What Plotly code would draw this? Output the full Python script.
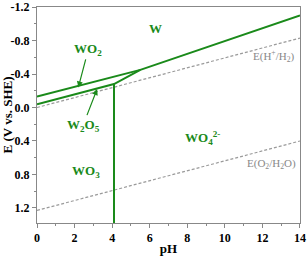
import plotly.graph_objects as go

# Boundary lines (pH, E)
upper_ph = [0, 5.5, 14]
upper_E = [-0.13, -0.45, -1.10]
lower_ph = [0, 4.1, 5.5]
lower_E = [-0.04, -0.28, -0.45]
vert_ph = [4.1, 4.1]
vert_E = [-0.28, 1.38]
h2_ph = [0, 14]
h2_E = [0.0, -0.83]
o2_ph = [0, 14]
o2_E = [1.23, 0.40]

x_ticks = [0, 2, 4, 6, 8, 10, 12, 14]
y_ticks = [-1.2, -0.8, -0.4, 0.0, 0.4, 0.8, 1.2]
y_tick_text = ["-1.2", "-0.8", "-0.4", "0.0", "0.4", "0.8", "1.2"]

green = "#1a8a1a"
gray = "#9a9a9a"
serif = "Liberation Serif, Times New Roman, serif"

fig = go.Figure()
for xs, ys in [(h2_ph, h2_E), (o2_ph, o2_E)]:
    fig.add_trace(go.Scatter(x=xs, y=ys, mode="lines",
                             line=dict(color=gray, width=1.2, dash="3px,2px"), showlegend=False))
for xs, ys in [(upper_ph, upper_E), (lower_ph, lower_E), (vert_ph, vert_E)]:
    fig.add_trace(go.Scatter(x=xs, y=ys, mode="lines",
                             line=dict(color=green, width=2), showlegend=False))

labels = [
    (6.3, -0.94, "<b>W</b>"),
    (2.6, 0.77, "<b>WO<sub>3</sub></b>"),
    (8.8, 0.36, "<b>WO<sub>4</sub><sup>2-</sup></b>"),
]
for x, y, t in labels:
    fig.add_annotation(x=x, y=y, text=t, showarrow=False,
                       font=dict(family=serif, size=13, color=green))
fig.add_annotation(x=12.6, y=-0.62, text="E(H<sup>+</sup>/H<sub>2</sub>)", showarrow=False,
                   font=dict(family=serif, size=11, color="#888888"))
fig.add_annotation(x=12.5, y=0.67, text="E(O<sub>2</sub>/H<sub>2</sub>O)", showarrow=False,
                   font=dict(family=serif, size=11, color="#888888"))
fig.add_annotation(x=2.2, y=-0.24, text="<b>WO<sub>2</sub></b>", showarrow=True, ax=10, ay=-38,
                   arrowhead=2, arrowsize=1, arrowwidth=1.2, arrowcolor=green,
                   font=dict(family=serif, size=13, color=green))
fig.add_annotation(x=3.2, y=-0.22, text="<b>W<sub>2</sub>O<sub>5</sub></b>", showarrow=True, ax=-14, ay=36,
                   arrowhead=2, arrowsize=1, arrowwidth=1.2, arrowcolor=green,
                   font=dict(family=serif, size=13, color=green))

axis_common = dict(showline=True, linecolor="#888888", linewidth=1, mirror=True,
                   ticks="outside", ticklen=4, tickcolor="#888888", showgrid=False, zeroline=False,
                   automargin=False,
                   tickfont=dict(family=serif, size=12, color="black"),
                   minor=dict(ticks="outside", ticklen=2, tickcolor="#888888"))
fig.update_xaxes(range=[0, 14.001], tickvals=x_ticks,
                 ticktext=["<b>%d</b>" % v for v in x_ticks],
                 minor_dtick=1,
                 title=dict(text="<b>pH</b>", font=dict(family=serif, size=13, color="black"), standoff=2),
                 **axis_common)
fig.update_yaxes(range=[1.38, -1.201], tickvals=y_ticks,
                 ticktext=["<b>%s</b>" % t for t in y_tick_text],
                 minor_dtick=0.2,
                 title=dict(text="<b>E (V vs. SHE)</b>", font=dict(family=serif, size=13, color="black"), standoff=4),
                 **axis_common)
fig.update_layout(width=307, height=256, margin=dict(l=37, r=7, t=7, b=33),
                  plot_bgcolor="white", paper_bgcolor="white")
fig.write_html("out.html", config={"displayModeBar": False},
               post_script="document.body.style.margin='0';")
